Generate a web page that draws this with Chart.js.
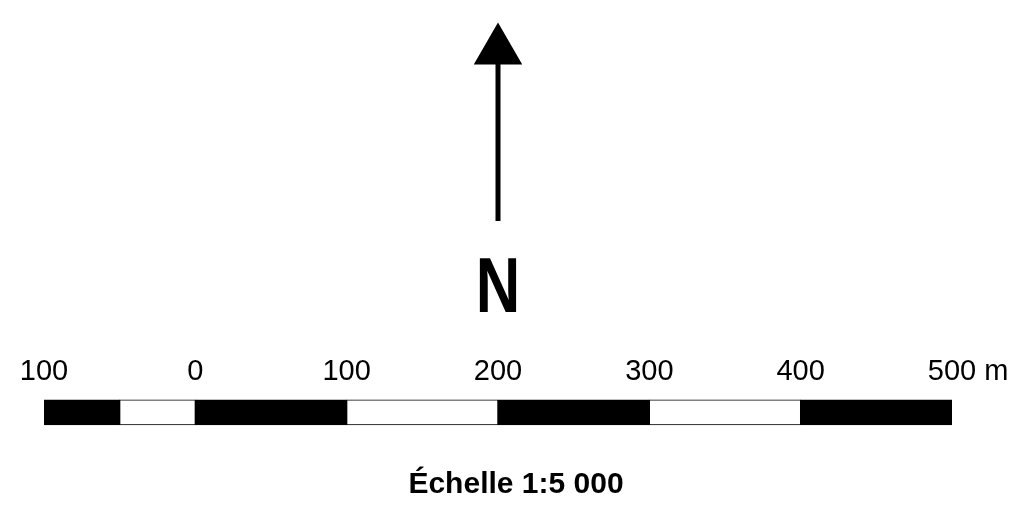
<!DOCTYPE html>
<html>
<head>
<meta charset="utf-8">
<script src="https://cdn.jsdelivr.net/npm/chart.js@4.4.1/dist/chart.umd.min.js"></script>
<style>
  body { margin: 0; background: #fff; }
  #wrap { width: 1016px; height: 512px; }
</style>
</head>
<body>
<div id="wrap"><canvas id="mycanvas"></canvas></div>
<script>
// scale bar segments in metres (start, end) and their fill
var segStart = [-100, -50, 0, 100, 200, 300, 400];
var segEnd   = [-50, 0, 100, 200, 300, 400, 500];
var segFill  = ['#000', '#fff', '#000', '#fff', '#000', '#fff', '#000'];

// tick labels along the bar
var tickValues = [-100, 0, 100, 200, 300, 400, 500];
var unitLabel = 'm';

// north arrow: x position (m) and vertical extent (chart units)
var arrowX = 200;
var arrowY = [19.2, 36.3];

var northLabel = 'N';
var caption = 'Échelle 1:5 000';

var barData = [];
for (var i = 0; i < segStart.length; i++) {
  barData.push({ x: [segStart[i], segEnd[i]], y: 0 });
}

var arrowData = [];
for (var j = 0; j < arrowY.length; j++) {
  arrowData.push({ x: arrowX, y: arrowY[j] });
}

var textPlugin = {
  id: 'mapText',
  afterDraw: function(chart) {
    var ctx = chart.ctx;
    var xs = chart.scales.x;
    ctx.save();
    ctx.fillStyle = '#000';
    ctx.textAlign = 'center';
    ctx.textBaseline = 'alphabetic';
    // "N" under the arrow, a little condensed
    var nx = xs.getPixelForValue(arrowX);
    ctx.translate(nx, 312);
    ctx.scale(0.8, 1);
    ctx.font = 'bold 77px "Liberation Sans", Arial, sans-serif';
    ctx.fillText(northLabel, 0, 0);
    ctx.restore();

    ctx.save();
    ctx.fillStyle = '#000';
    ctx.textAlign = 'center';
    ctx.textBaseline = 'alphabetic';
    ctx.font = 'bold 30px "Liberation Sans", Arial, sans-serif';
    ctx.fillText(caption, 516, 493);
    ctx.restore();
  }
};

var ctx = document.getElementById('mycanvas');

var chart = new Chart(ctx, {
  type: 'bar',
  data: {
    datasets: [
      {
        type: 'bar',
        indexAxis: 'y',
        data: barData,
        backgroundColor: segFill,
        borderColor: '#000',
        borderWidth: 1,
        borderSkipped: false,
        barThickness: 25
      },
      {
        type: 'line',
        data: arrowData,
        borderColor: '#000',
        borderWidth: 5,
        borderCapStyle: 'butt',
        pointStyle: 'triangle',
        pointRadius: [0, 26],
        pointBackgroundColor: '#000',
        pointBorderColor: '#000',
        pointBorderWidth: 2,
        clip: false
      }
    ]
  },
  options: {
    responsive: true,
    maintainAspectRatio: false,
    animation: false,
    layout: { padding: { left: 44, right: 64, top: 0, bottom: 0 } },
    plugins: {
      legend: { display: false },
      tooltip: { enabled: false },
      title: { display: false }
    },
    scales: {
      x: {
        type: 'linear',
        min: -100,
        max: 500,
        offset: false,
        position: { y: 6.6 },
        grid: { display: false, offset: false },
        border: { display: false },
        afterBuildTicks: function(scale) {
          scale.ticks = tickValues.map(function(v) { return { value: v }; });
        },
        ticks: {
          autoSkip: false,
          maxRotation: 0,
          padding: 0,
          color: '#000',
          font: { family: '"Liberation Sans", Arial, sans-serif', size: 29 },
          callback: function(value) {
            if (value === tickValues[tickValues.length - 1]) {
              return '    ' + value + ' ' + unitLabel;
            }
            return String(Math.abs(value));
          }
        }
      },
      y: {
        type: 'linear',
        min: -7.18,
        max: 38.55,
        offset: false,
        display: false,
        grid: { offset: false }
      }
    }
  },
  plugins: [textPlugin]
});
</script>
</body>
</html>
